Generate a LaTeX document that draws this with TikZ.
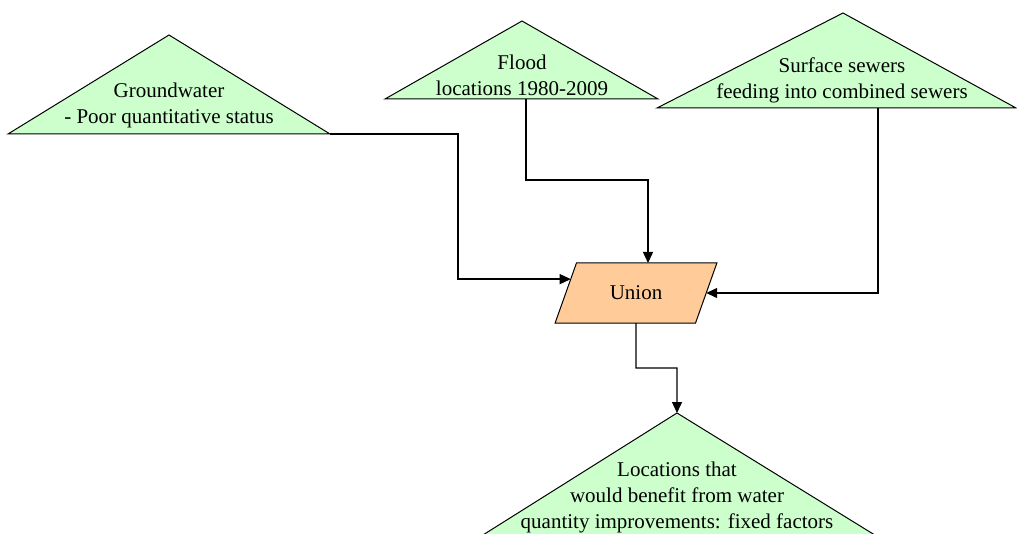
\documentclass[tikz,border=0pt]{standalone}
\usepackage{fontspec}
\setmainfont{Liberation Serif}
\usetikzlibrary{shapes.geometric,arrows.meta,positioning,calc}
\definecolor{layergreen}{RGB}{204,255,204}
\definecolor{toolorange}{RGB}{255,204,153}

\begin{document}
\begin{tikzpicture}[x=0.5pt,y=-0.5pt,
  every node/.style={font=\fontsize{10.5}{13}\selectfont,align=center},
  layer/.style={draw,fill=layergreen,line width=0.5pt,line join=miter},
  tool/.style={draw,fill=toolorange,trapezium,trapezium left angle=56.3,trapezium right angle=123.7,
    trapezium stretches=true,minimum width=81pt,minimum height=30pt,inner sep=0pt,outer sep=0pt,line width=0.5pt},
  arr/.style={-{Triangle[length=5.5pt,width=5pt]},line width=0.7pt}]
\useasboundingbox (0,0) rectangle (1017,534);
% input layers
\coordinate (gw-l) at (8,134); \coordinate (gw-r) at (330,134);
\fill[layer] (gw-l) -- (169,35) -- (gw-r) -- cycle;
\node (gw) at (169,105) {Groundwater\\- Poor quantitative status};
\coordinate (fl-l) at (385,99); \coordinate (fl-r) at (658,99); \coordinate (fl-b) at (526,99);
\fill[layer] (fl-l) -- (522,21) -- (fl-r) -- cycle;
\node (fl) at (522,75) {Flood\\locations 1980-2009};
\coordinate (sw-l) at (657,108); \coordinate (sw-r) at (1016,108); \coordinate (sw-b) at (878,108);
\fill[layer] (sw-l) -- (843,13) -- (sw-r) -- cycle;
\node (sw) at (842,80) {Surface sewers\\feeding into combined sewers};
% overlay
\node[tool] (un) at (636,293) {Union};
% output layer
\coordinate (res-top) at (677,413);
\fill[layer] (467,545) -- (res-top) -- (891,545) -- cycle;
\node (res) at (677,497) {Locations that\\would benefit from water\\quantity improvements: fixed factors};
% connectors
\draw[arr] (gw-r) -- (458,134) |- (un.168);
\draw[arr] (fl-b) -- (526,180) -| ([xshift=6pt]un.north);
\draw[arr] (sw-b) |- (un.east);
\draw[arr] (un.south) -- (636,368) -| (res-top);
\end{tikzpicture}
\end{document}
